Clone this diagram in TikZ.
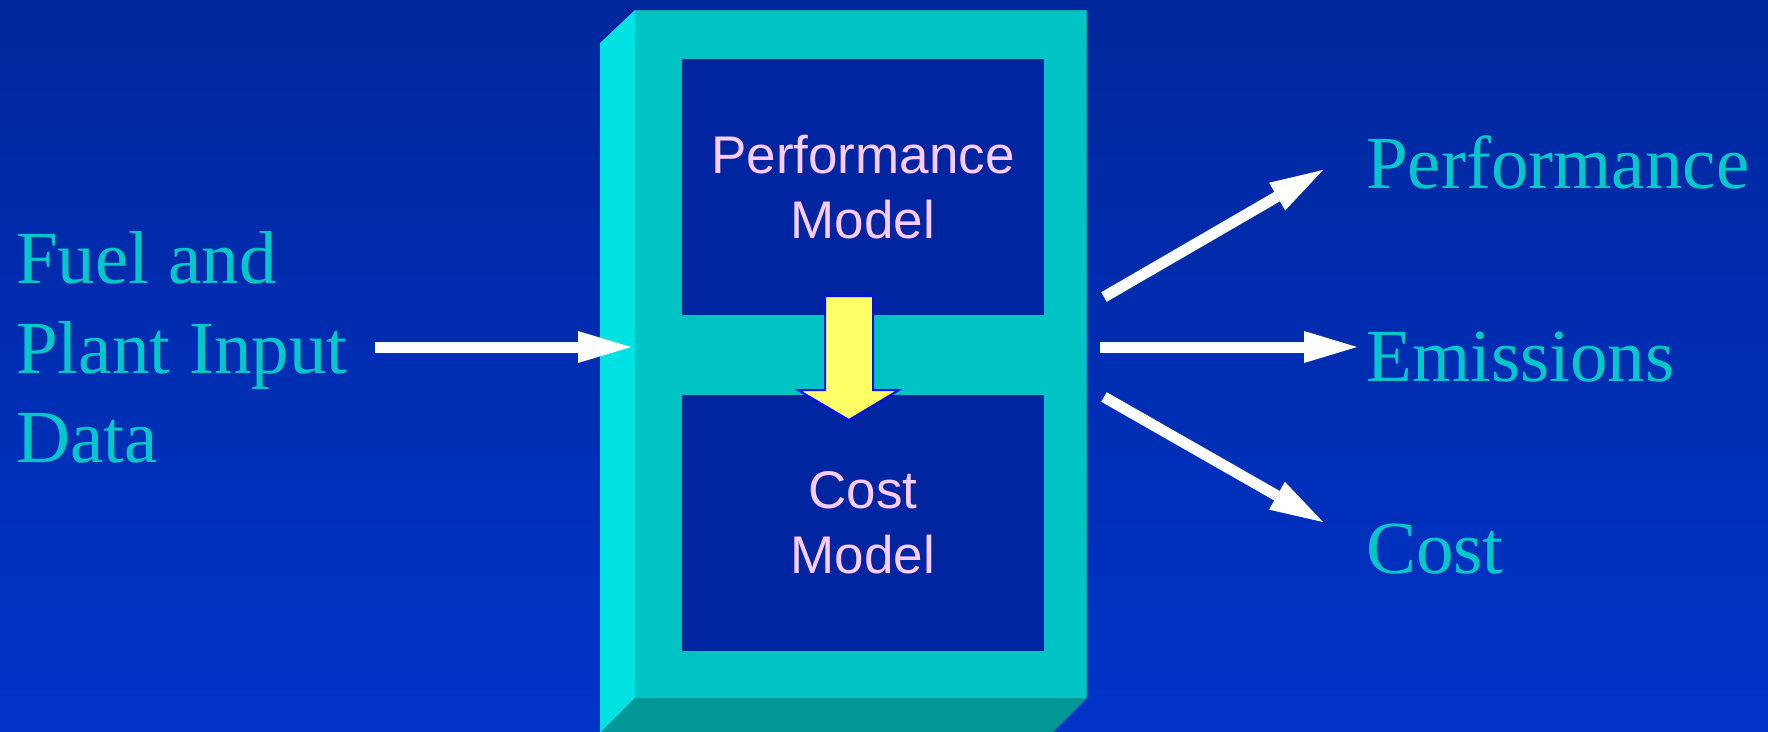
\documentclass[tikz,border=0pt]{standalone}
\usepackage{fontspec}
\setmainfont{Liberation Serif}
\newfontfamily\arialfont{Liberation Sans}
\usetikzlibrary{arrows.meta}

\definecolor{bgtop}{HTML}{00279C}
\definecolor{bgbot}{HTML}{0034C8}
\definecolor{frontteal}{HTML}{00C4C4}
\definecolor{sideteal}{HTML}{00E2E2}
\definecolor{baseteal}{HTML}{009696}
\definecolor{edgeteal}{HTML}{00A6AA}
\definecolor{panelblue}{HTML}{0025A0}
\definecolor{modeltext}{HTML}{FFCCFF}
\definecolor{sidetextcol}{HTML}{00C8C8}
\definecolor{flowyellow}{HTML}{FFFF66}
\definecolor{flowblue}{HTML}{0010F0}

\tikzset{
  sidetext/.style={inner sep=0pt, anchor=base west, text=sidetextcol,
    font=\fontsize{75}{90}\selectfont},
  panel/.style={fill=panelblue, inner sep=0pt, align=center, text=modeltext,
    minimum width=362pt, minimum height=256pt,
    font=\arialfont\fontsize{53}{65}\selectfont},
  flowarrow/.style={draw=white, line width=11pt,
    -{Triangle[length=53pt,width=32pt,line width=0pt]}},
  passdown/.style={fill=flowyellow, draw=flowblue, line width=2pt, line join=miter}
}

\begin{document}
\begin{tikzpicture}[x=1pt,y=-1pt]
\useasboundingbox (0,0) rectangle (1768,731);
% background gradient
\shade[top color=bgtop, bottom color=bgbot] (0,0) rectangle (1768,731);

% the framed block: side and bottom faces, then the front face
\begin{scope}
  \clip (0,0) rectangle (1768,731);
  \fill[sideteal] (600,43) -- (635,10) -- (635,698) -- (600,733) -- cycle;
  \fill[baseteal] (635,698) -- (1087,698) -- (1052,733) -- (600,733) -- cycle;
\end{scope}
\fill[frontteal] (635,10) rectangle (1087,698);
\draw[edgeteal, line width=1.2pt] (635,10.6) -- (1086.4,10.6) -- (1086.4,698);

% the two models inside the block
\node[panel] (perf) at (863,187) {Performance\\Model};
\node[panel] (cost) at (863,523) {Cost\\Model};

% hand-over from the performance model to the cost model
\draw[passdown] (825,296) -- (873,296) -- (873,390) -- (899,390) -- (849,420)
  -- (798,390) -- (825,390) -- cycle;

% input text
\node[sidetext] (fuel)  at (16,283) {Fuel and};
\node[sidetext] (plant) at (16,373) {Plant Input};
\node[sidetext] (data)  at (16,462) {Data};

% output texts
\node[sidetext] (operf) at (1366,188) {Performance};
\node[sidetext] (oemis) at (1366,381) {Emissions};
\node[sidetext] (ocost) at (1366,573) {Cost};

% arrow end points
\coordinate (inS) at (375,347);
\coordinate (inE) at (631,347);
\coordinate (o1s) at (1104,297);
\coordinate (o1e) at (1323,170);
\coordinate (o2s) at (1100,347);
\coordinate (o2e) at (1357,347);
\coordinate (o3s) at (1104,397);
\coordinate (o3e) at (1323,522);

\draw[flowarrow] (inS) -- (inE);
\draw[flowarrow] (o1s) -- (o1e);
\draw[flowarrow] (o2s) -- (o2e);
\draw[flowarrow] (o3s) -- (o3e);
\end{tikzpicture}
\end{document}
